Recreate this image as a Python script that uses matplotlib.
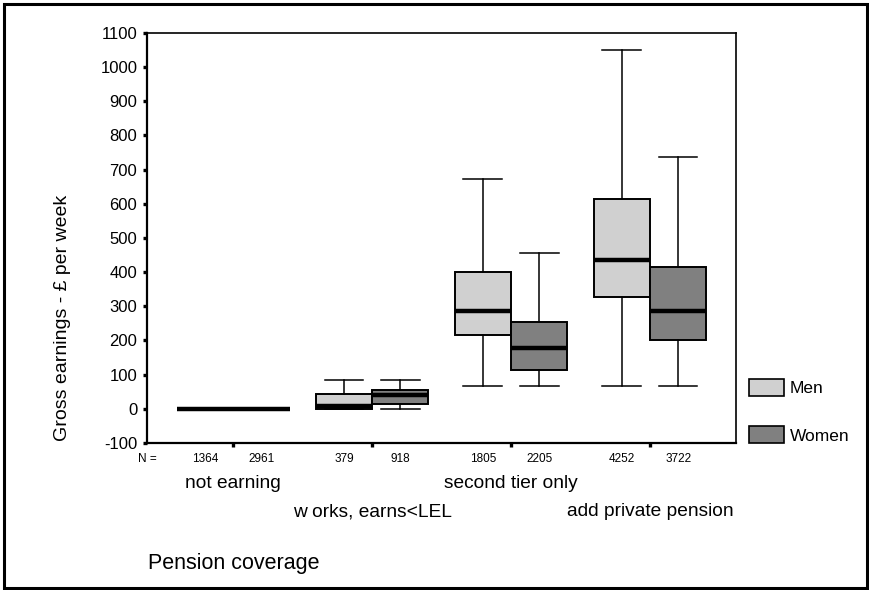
import matplotlib
matplotlib.use("Agg")
import matplotlib.pyplot as plt
from matplotlib.patches import Patch, Rectangle

plt.rcParams['font.family'] = ['Liberation Sans', 'DejaVu Sans']
plt.rcParams['axes.unicode_minus'] = False

# pension coverage groups
categories = ['not earning', 'w orks, earns<LEL', 'second tier only', 'add private pension']

# gross earnings, £ per week
men_n = [1364, 379, 1805, 4252]
men_lo = [0, 0, 66, 66]
men_q1 = [0, 0, 215, 326]
men_med = [0, 9, 285, 436]
men_q3 = [0, 44, 401, 615]
men_hi = [0, 85, 673, 1051]

women_n = [2961, 918, 2205, 3722]
women_lo = [0, 0, 66, 66]
women_q1 = [0, 13, 115, 200]
women_med = [0, 41, 179, 285]
women_q3 = [0, 54, 253, 414]
women_hi = [0, 85, 455, 737]

men_col = '#d0d0d0'
women_col = '#808080'


def make_stats(lo, q1, med, q3, hi):
    return [dict(whislo=a, q1=b, med=c, q3=d, whishi=e, fliers=[])
            for a, b, c, d, e in zip(lo, q1, med, q3, hi)]


fig = plt.figure(figsize=(8.69, 5.90), dpi=100)
ax = fig.add_axes([0.1692, 0.2492, 0.6778, 0.6949])

centers = [i + 1 for i in range(len(categories))]
off = 0.203
w = 0.406
men_pos = [c - off for c in centers]
women_pos = [c + off for c in centers]

for stats, pos, col in [(make_stats(men_lo, men_q1, men_med, men_q3, men_hi), men_pos, men_col),
                        (make_stats(women_lo, women_q1, women_med, women_q3, women_hi), women_pos, women_col)]:
    ax.bxp(stats, positions=pos, widths=w, capwidths=0.278, patch_artist=True,
           showfliers=False, manage_ticks=False,
           boxprops=dict(facecolor=col, edgecolor='black', linewidth=1.4),
           medianprops=dict(color='black', linewidth=3.2, solid_capstyle='butt'),
           whiskerprops=dict(color='black', linewidth=1.1),
           capprops=dict(color='black', linewidth=1.1))

ax.set_xlim(0.38, 4.62)
ax.set_ylim(-100, 1100)
ax.set_yticks(range(-100, 1101, 100))
ax.set_xticks(centers)
ax.set_xticklabels([])
ax.tick_params(axis='y', direction='out', length=3, width=2.4, pad=4, labelsize=12)
ax.tick_params(axis='x', direction='out', length=3, width=2.4)
for s in ax.spines.values():
    s.set_linewidth(1.2)
ax.spines['left'].set_linewidth(1.6)
ax.spines['bottom'].set_linewidth(1.6)

ax.set_ylabel('Gross earnings - £ per week', fontsize=14)
ax.yaxis.set_label_coords(-0.129, 0.306)

# N = row and category labels under the axis
ax.annotate('N =', xy=(0, 0), xycoords='axes fraction', xytext=(0, -11.5),
            textcoords='offset points', ha='center', va='center', fontsize=8.5)
for p, n in zip(men_pos + women_pos, men_n + women_n):
    ax.annotate(str(n), xy=(p, 0), xycoords=('data', 'axes fraction'), xytext=(0, -11.5),
                textcoords='offset points', ha='center', va='center', fontsize=8.5)
for i, (c, lab) in enumerate(zip(centers, categories)):
    dy = -29.5 if i % 2 == 0 else -49.7
    ax.annotate(lab, xy=(c, 0), xycoords=('data', 'axes fraction'), xytext=(0, dy),
                textcoords='offset points', ha='center', va='center', fontsize=13.8)

fig.text(148 / 869, 1 - 564 / 590, 'Pension coverage', ha='left', va='center', fontsize=15.5)

handles = [Patch(facecolor=men_col, edgecolor='black', linewidth=1.2, label='Men'),
           Patch(facecolor=women_col, edgecolor='black', linewidth=1.2, label='Women')]
fig.legend(handles=handles, loc='upper left', bbox_to_anchor=(749 / 869, 1 - 379 / 590),
           bbox_transform=fig.transFigure, frameon=False, fontsize=12.5, borderpad=0,
           borderaxespad=0, handlelength=2.0, handleheight=1.15, handletextpad=0.35,
           labelspacing=1.7)

# frame round the whole figure
fig.patches.append(Rectangle((4 / 869, 2 / 590), 863 / 869, 584 / 590, transform=fig.transFigure,
                             fill=False, edgecolor='black', linewidth=2.2))

fig.savefig('out.png', dpi=100)
